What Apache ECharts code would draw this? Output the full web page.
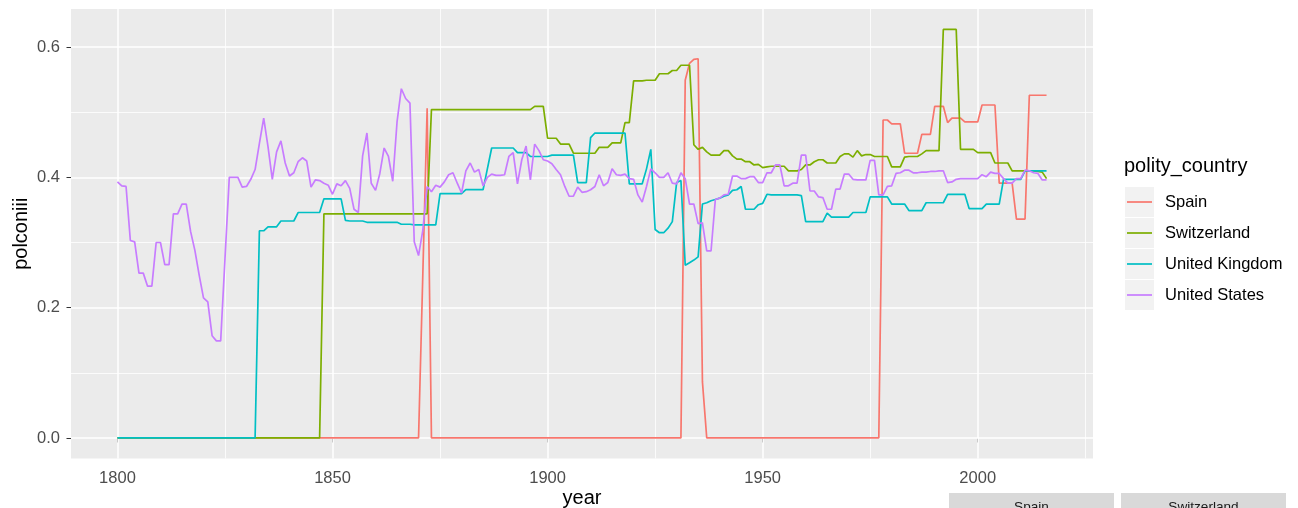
<!DOCTYPE html>
<html>
<head>
<meta charset="utf-8">
<title>polconiii by country</title>
<script src="https://cdn.jsdelivr.net/npm/echarts@6.0.0/dist/echarts.min.js"></script>
<style>
  html, body { margin: 0; padding: 0; background: #fff; }
  #chart { width: 1298px; height: 508px; }
</style>
</head>
<body>
<div id="chart"></div>
<script>
// one value per year, starting at firstYear
var firstYear = 1800;
var countries = ['Spain', 'Switzerland', 'United Kingdom', 'United States'];
var colors = ['#F8766D', '#7CAE00', '#00BFC4', '#C77CFF'];
var xTicks = [1800, 1850, 1900, 1950, 2000];
var xMinor = [1825, 1875, 1925, 1975, 2025];
var yTicks = [0, 0.2, 0.4, 0.6];
var yMinor = [0.1, 0.3, 0.5];
var stripLabels = ['Spain', 'Switzerland'];

var spain = [
  0, 0, 0, 0, 0, 0, 0, 0, 0, 0,
  0, 0, 0, 0, 0, 0, 0, 0, 0, 0,
  0, 0, 0, 0, 0, 0, 0, 0, 0, 0,
  0, 0, 0, 0, 0, 0, 0, 0, 0, 0,
  0, 0, 0, 0, 0, 0, 0, 0, 0, 0,
  0, 0, 0, 0, 0, 0, 0, 0, 0, 0,
  0, 0, 0, 0, 0, 0, 0, 0, 0, 0,
  0, 0.253, 0.506, 0, 0, 0, 0, 0, 0, 0,
  0, 0, 0, 0, 0, 0, 0, 0, 0, 0,
  0, 0, 0, 0, 0, 0, 0, 0, 0, 0,
  0, 0, 0, 0, 0, 0, 0, 0, 0, 0,
  0, 0, 0, 0, 0, 0, 0, 0, 0, 0,
  0, 0, 0, 0, 0, 0, 0, 0, 0, 0,
  0, 0, 0.549, 0.575, 0.581, 0.582, 0.086, 0, 0, 0,
  0, 0, 0, 0, 0, 0, 0, 0, 0, 0,
  0, 0, 0, 0, 0, 0, 0, 0, 0, 0,
  0, 0, 0, 0, 0, 0, 0, 0, 0, 0,
  0, 0, 0, 0, 0, 0, 0, 0, 0.488, 0.488,
  0.482, 0.482, 0.482, 0.437, 0.437, 0.437, 0.437, 0.466, 0.466, 0.466,
  0.509, 0.509, 0.509, 0.484, 0.491, 0.491, 0.491, 0.485, 0.485, 0.485,
  0.485, 0.511, 0.511, 0.511, 0.511, 0.391, 0.391, 0.391, 0.391, 0.336,
  0.336, 0.336, 0.526, 0.526, 0.526, 0.526, 0.526
];

var switzerland = [
  0, 0, 0, 0, 0, 0, 0, 0, 0, 0,
  0, 0, 0, 0, 0, 0, 0, 0, 0, 0,
  0, 0, 0, 0, 0, 0, 0, 0, 0, 0,
  0, 0, 0, 0, 0, 0, 0, 0, 0, 0,
  0, 0, 0, 0, 0, 0, 0, 0, 0.344, 0.344,
  0.344, 0.344, 0.344, 0.344, 0.344, 0.344, 0.344, 0.344, 0.344, 0.344,
  0.344, 0.344, 0.344, 0.344, 0.344, 0.344, 0.344, 0.344, 0.344, 0.344,
  0.344, 0.344, 0.344, 0.504, 0.504, 0.504, 0.504, 0.504, 0.504, 0.504,
  0.504, 0.504, 0.504, 0.504, 0.504, 0.504, 0.504, 0.504, 0.504, 0.504,
  0.504, 0.504, 0.504, 0.504, 0.504, 0.504, 0.504, 0.509, 0.509, 0.509,
  0.460, 0.460, 0.460, 0.451, 0.451, 0.451, 0.437, 0.437, 0.437, 0.437,
  0.437, 0.437, 0.446, 0.446, 0.446, 0.453, 0.453, 0.453, 0.484, 0.484,
  0.548, 0.548, 0.548, 0.549, 0.549, 0.549, 0.559, 0.559, 0.559, 0.564,
  0.564, 0.572, 0.572, 0.572, 0.450, 0.443, 0.446, 0.439, 0.434, 0.434,
  0.434, 0.441, 0.441, 0.433, 0.428, 0.428, 0.424, 0.424, 0.419, 0.420,
  0.415, 0.416, 0.417, 0.417, 0.417, 0.417, 0.410, 0.410, 0.410, 0.412,
  0.419, 0.419, 0.424, 0.427, 0.427, 0.422, 0.422, 0.422, 0.432, 0.436,
  0.436, 0.431, 0.441, 0.433, 0.435, 0.435, 0.432, 0.432, 0.432, 0.432,
  0.416, 0.416, 0.416, 0.431, 0.432, 0.432, 0.432, 0.436, 0.441, 0.441,
  0.441, 0.441, 0.627, 0.627, 0.627, 0.627, 0.443, 0.443, 0.443, 0.443,
  0.438, 0.438, 0.438, 0.438, 0.422, 0.422, 0.422, 0.422, 0.410, 0.410,
  0.410, 0.410, 0.410, 0.410, 0.409, 0.408, 0.398
];

var unitedKingdom = [
  0, 0, 0, 0, 0, 0, 0, 0, 0, 0,
  0, 0, 0, 0, 0, 0, 0, 0, 0, 0,
  0, 0, 0, 0, 0, 0, 0, 0, 0, 0,
  0, 0, 0, 0.318, 0.318, 0.324, 0.324, 0.324, 0.333, 0.333,
  0.333, 0.333, 0.346, 0.346, 0.346, 0.346, 0.346, 0.346, 0.367, 0.367,
  0.367, 0.367, 0.367, 0.334, 0.333, 0.333, 0.333, 0.333, 0.331, 0.331,
  0.331, 0.331, 0.331, 0.331, 0.331, 0.331, 0.328, 0.328, 0.328, 0.327,
  0.327, 0.327, 0.327, 0.327, 0.327, 0.375, 0.375, 0.375, 0.375, 0.375,
  0.375, 0.381, 0.381, 0.381, 0.381, 0.381, 0.413, 0.445, 0.445, 0.445,
  0.445, 0.445, 0.445, 0.438, 0.438, 0.438, 0.432, 0.432, 0.432, 0.432,
  0.432, 0.434, 0.434, 0.434, 0.434, 0.434, 0.434, 0.392, 0.392, 0.392,
  0.461, 0.468, 0.468, 0.468, 0.468, 0.468, 0.468, 0.468, 0.468, 0.390,
  0.390, 0.390, 0.390, 0.413, 0.443, 0.320, 0.315, 0.315, 0.322, 0.332,
  0.392, 0.395, 0.265, 0.269, 0.273, 0.278, 0.359, 0.361, 0.364, 0.366,
  0.368, 0.371, 0.373, 0.380, 0.381, 0.386, 0.351, 0.351, 0.351, 0.358,
  0.360, 0.374, 0.373, 0.373, 0.373, 0.373, 0.373, 0.373, 0.373, 0.372,
  0.332, 0.332, 0.332, 0.332, 0.332, 0.345, 0.339, 0.339, 0.339, 0.339,
  0.339, 0.346, 0.346, 0.346, 0.346, 0.370, 0.370, 0.370, 0.370, 0.370,
  0.359, 0.359, 0.359, 0.359, 0.349, 0.349, 0.349, 0.349, 0.361, 0.361,
  0.361, 0.361, 0.361, 0.374, 0.374, 0.374, 0.374, 0.374, 0.352, 0.352,
  0.352, 0.352, 0.359, 0.359, 0.359, 0.359, 0.397, 0.397, 0.397, 0.397,
  0.397, 0.410, 0.410, 0.410, 0.410, 0.410, 0.410
];

var unitedStates = [
  0.393, 0.387, 0.386, 0.303, 0.301, 0.253, 0.253, 0.233, 0.233, 0.300,
  0.300, 0.266, 0.266, 0.344, 0.344, 0.359, 0.359, 0.317, 0.288, 0.250,
  0.215, 0.209, 0.157, 0.149, 0.149, 0.275, 0.400, 0.400, 0.400, 0.385,
  0.386, 0.397, 0.412, 0.452, 0.491, 0.447, 0.397, 0.439, 0.456, 0.422,
  0.402, 0.407, 0.424, 0.430, 0.425, 0.385, 0.396, 0.395, 0.391, 0.388,
  0.374, 0.390, 0.387, 0.395, 0.383, 0.351, 0.346, 0.433, 0.468, 0.391,
  0.380, 0.406, 0.445, 0.432, 0.394, 0.485, 0.536, 0.521, 0.514, 0.301,
  0.280, 0.319, 0.386, 0.378, 0.388, 0.385, 0.393, 0.404, 0.407, 0.391,
  0.376, 0.410, 0.422, 0.408, 0.412, 0.387, 0.400, 0.405, 0.403, 0.403,
  0.404, 0.432, 0.438, 0.390, 0.427, 0.448, 0.396, 0.451, 0.441, 0.427,
  0.425, 0.421, 0.412, 0.404, 0.386, 0.371, 0.371, 0.385, 0.377, 0.378,
  0.381, 0.386, 0.404, 0.387, 0.392, 0.413, 0.404, 0.403, 0.405, 0.398,
  0.397, 0.373, 0.362, 0.386, 0.413, 0.407, 0.400, 0.400, 0.407, 0.391,
  0.390, 0.407, 0.398, 0.359, 0.359, 0.329, 0.330, 0.287, 0.287, 0.366,
  0.368, 0.373, 0.374, 0.402, 0.402, 0.398, 0.398, 0.401, 0.401, 0.392,
  0.392, 0.407, 0.407, 0.419, 0.419, 0.387, 0.387, 0.391, 0.391, 0.434,
  0.434, 0.379, 0.379, 0.370, 0.369, 0.351, 0.351, 0.382, 0.382, 0.405,
  0.405, 0.397, 0.396, 0.396, 0.396, 0.426, 0.426, 0.373, 0.373, 0.386,
  0.387, 0.406, 0.407, 0.411, 0.411, 0.407, 0.407, 0.408, 0.408, 0.409,
  0.409, 0.410, 0.410, 0.392, 0.393, 0.397, 0.398, 0.398, 0.398, 0.398,
  0.398, 0.404, 0.401, 0.408, 0.406, 0.406, 0.398, 0.391, 0.391, 0.398,
  0.398, 0.411, 0.410, 0.407, 0.406, 0.396, 0.396
];

var seriesValues = [spain, switzerland, unitedKingdom, unitedStates];

var font = '"Liberation Sans", Arial, Helvetica, sans-serif';

// ggplot-like 5% expansion of the data range
var lastYear = firstYear + spain.length - 1;
var allValues = [].concat(spain, switzerland, unitedKingdom, unitedStates);
var vMax = Math.max.apply(null, allValues), vMin = Math.min.apply(null, allValues);
var xPad = (lastYear - firstYear) * 0.05, yPad = (vMax - vMin) * 0.05;

function toPairs(values) {
  return values.map(function (v, i) { return [firstYear + i, v]; });
}

function gridLine(axis, value, width) {
  var d = { lineStyle: { color: '#FFFFFF', width: width, type: 'solid' } };
  d[axis] = value;
  return d;
}

var gridLines = []
  .concat(xMinor.map(function (v) { return gridLine('xAxis', v, 0.8); }))
  .concat(yMinor.map(function (v) { return gridLine('yAxis', v, 0.8); }))
  .concat(xTicks.map(function (v) { return gridLine('xAxis', v, 1.5); }))
  .concat(yTicks.map(function (v) { return gridLine('yAxis', v, 1.5); }));

var series = [{
  name: 'grid',
  type: 'line',
  data: [],
  silent: true,
  z: 1,
  markLine: {
    silent: true,
    symbol: 'none',
    animation: false,
    z: 1,
    label: { show: false },
    emphasis: { disabled: true },
    data: gridLines
  }
}];

countries.forEach(function (name, i) {
  series.push({
    name: name,
    type: 'line',
    data: toPairs(seriesValues[i]),
    symbol: 'none',
    showSymbol: false,
    z: 3,
    lineStyle: { color: colors[i], width: 1.7 },
    itemStyle: { color: colors[i] },
    animation: false
  });
});

// legend drawn the ggplot way: grey key boxes, short line, label
var legendGraphics = [{
  type: 'text',
  left: 1124, top: 156,
  style: { text: 'polity_country', font: '20px ' + font, fill: '#000000' }
}];
countries.forEach(function (name, i) {
  var cy = 202 + i * 31;
  legendGraphics.push({
    type: 'rect',
    shape: { x: 1125, y: cy - 15, width: 29, height: 30 },
    style: { fill: '#F2F2F2' }
  });
  legendGraphics.push({
    type: 'line',
    shape: { x1: 1127, y1: cy, x2: 1152, y2: cy },
    style: { stroke: colors[i], lineWidth: 1.7 }
  });
  legendGraphics.push({
    type: 'text',
    x: 1165, y: cy,
    style: { text: name, font: '16.5px ' + font, fill: '#000000', verticalAlign: 'middle' }
  });
});

// facet strips peeking in at the bottom edge
stripLabels.forEach(function (name, i) {
  var x0 = 949 + i * 172;
  legendGraphics.push({
    type: 'rect',
    shape: { x: x0, y: 493, width: 165, height: 30 },
    style: { fill: '#D9D9D9' }
  });
  legendGraphics.push({
    type: 'text',
    x: x0 + 82.5, y: 500,
    style: { text: name, font: '13.6px ' + font, fill: '#1A1A1A', align: 'center', verticalAlign: 'top' }
  });
});

var chart = echarts.init(document.getElementById('chart'));
chart.setOption({
  animation: false,
  backgroundColor: '#FFFFFF',
  textStyle: { fontFamily: font },
  grid: {
    left: 71, right: 205, top: 9, bottom: 49.6,
    outerBoundsMode: 'none',
    containLabel: false,
    show: true, backgroundColor: '#EBEBEB', borderWidth: 0
  },
  xAxis: {
    type: 'value',
    min: firstYear - xPad,
    max: lastYear + xPad,
    name: 'year',
    nameLocation: 'middle',
    nameGap: 30,
    nameMoveOverlap: false,
    nameTextStyle: { color: '#000000', fontSize: 20, fontFamily: font },
    axisLine: { show: false },
    splitLine: { show: false },
    axisTick: { show: true, customValues: xTicks, length: 4.5, lineStyle: { color: '#333333', width: 1 } },
    axisLabel: {
      customValues: xTicks, color: '#4D4D4D', fontSize: 16.5, margin: 12, fontFamily: font,
      formatter: function (v) { return String(v); }
    }
  },
  yAxis: {
    type: 'value',
    min: vMin - yPad,
    max: vMax + yPad,
    name: 'polconiii',
    nameLocation: 'middle',
    nameRotate: 90,
    nameGap: 40,
    nameMoveOverlap: false,
    nameTextStyle: { color: '#000000', fontSize: 20, fontFamily: font },
    axisLine: { show: false },
    splitLine: { show: false },
    axisTick: { show: true, customValues: yTicks, length: 4.5, lineStyle: { color: '#333333', width: 1 } },
    axisLabel: {
      customValues: yTicks, color: '#4D4D4D', fontSize: 16.5, margin: 11, fontFamily: font,
      formatter: function (v) { return v.toFixed(1); }
    }
  },
  series: series,
  graphic: legendGraphics
});
</script>
</body>
</html>
